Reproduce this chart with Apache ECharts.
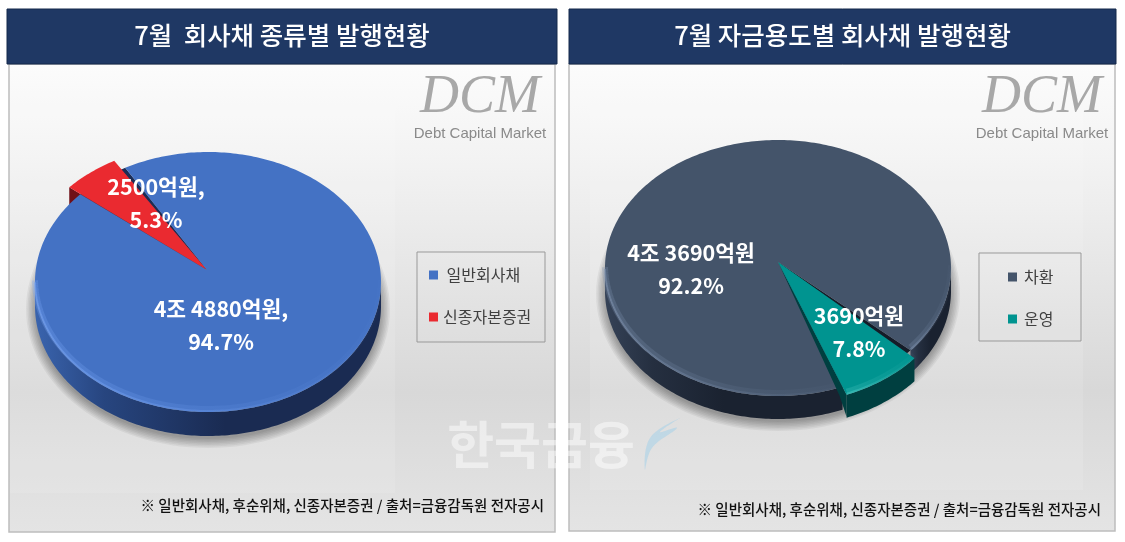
<!DOCTYPE html>
<html><head><meta charset="utf-8">
<style>html,body{margin:0;padding:0;background:#fff}#c{width:1125px;height:542px}</style>
<script src="https://cdn.jsdelivr.net/npm/echarts@6/dist/echarts.min.js"></script>
</head><body><div id="c"></div>
<script>
const titleLeft = '7월  회사채 종류별 발행현황';
const titleRight = '7월 자금용도별 회사채 발행현황';
const categoriesLeft = ['일반회사채', '신종자본증권'];
const valuesLeft = [44880, 2500];
const labelsLeft = ['4조 4880억원,\n94.7%', '2500억원,\n5.3%'];
const categoriesRight = ['차환', '운영'];
const valuesRight = [43690, 3690];
const labelsRight = ['4조 3690억원\n92.2%', '3690억원\n7.8%'];
const footnote = '※ 일반회사채, 후순위채, 신종자본증권 / 출처=금융감독원 전자공시';
const FONT = '"Noto Sans CJK KR"';
const rad = Math.PI / 180;

function lin(x, y, x2, y2, stops) {
  return new echarts.graphic.LinearGradient(x, y, x2, y2, stops.map(s => ({offset: s[0], color: s[1]})));
}

const pieLeft = {
  cx: 208, cy: 282, rx: 173, ry: 130, depth: 24, apex: [207, 270], start: 241.4,
  values: valuesLeft, labels: labelsLeft, labelPos: [[221, 325], [156, 203]],
  explode: [null, {dx: -11, dy: -7, cut: 'start', cutColor: '#701018', wall: '#701018', z: 1, cutDepth: 19, inner: 0}],
  face: ['#4472c4', '#ea2a30'], rim: ['120,165,245', '255,120,120'],
  wall: [[[0, '#1a2b52'], [0.45, '#1a2b52'], [0.8, '#27457f'], [1, '#3a64ae']], null],
  notch: '#1b2d55'
};
const pieRight = {
  cx: 778, cy: 268, rx: 173, ry: 128, depth: 23, apex: [778, 262], start: 68.08,
  values: valuesRight, labels: labelsRight, labelPos: [[691, 269], [859, 332]],
  explode: [null, {dx: 4, dy: 8, cut: 'end', cutColor: '#003f40', wall: '#003f40', z: 3, cutDepth: 22, inner: -7}],
  face: ['#44546a', '#009490'], rim: ['125,145,175', '80,200,195'],
  wall: [[[0, '#1a2230'], [0.5, '#1a2230'], [0.8, '#252f40'], [1, '#354257']], null],
  notch: '#151c28'
};

function makeRender(p, i) {
  return function (params, api) {
    const total = p.values.reduce((a, b) => a + b, 0);
    const before = p.values.slice(0, i).reduce((a, b) => a + b, 0);
    const a0 = p.start + before / total * 360;
    const a1 = a0 + api.value(0) / total * 360;
    const ex = p.explode[i];
    const dx = ex ? ex.dx : 0, dy = ex ? ex.dy : 0;
    const pt = (t, extra) => [p.cx + dx + p.rx * Math.cos(t * rad), p.cy + dy + (extra || 0) + p.ry * Math.sin(t * rad)];
    const steps = [];
    for (let t = a0; t < a1; t += 1) steps.push(t);
    steps.push(a1);
    const children = [];
    // outer wall, only where the rim faces the viewer
    const runs = [];
    let run = [];
    steps.forEach(t => {
      if (Math.sin(t * rad) >= -0.001) run.push(t);
      else if (run.length) { runs.push(run); run = []; }
    });
    if (run.length) runs.push(run);
    const wallFill = ex ? ex.wall : lin(1, 0, 0, 0, p.wall[i]);
    if (ex) {
      const edge = ex.cut === 'start' ? a0 : a1;
      const a = pt(edge), b = pt(edge, ex.cutDepth);
      const pts = ex.inner ? [a, b, [a[0] + ex.inner, a[1] + 1], p.apex] : [a, b, p.apex];
      children.push({type: 'polygon', shape: {points: pts}, style: {fill: ex.cutColor}});
    }
    runs.forEach(r => {
      const top = r.map(t => pt(t));
      const bot = r.map(t => pt(t, p.depth)).reverse();
      children.push({type: 'polygon', shape: {points: top.concat(bot)}, style: {fill: wallFill}});
    });
    // top face
    const arc = steps.map(t => pt(t));
    children.push({type: 'polygon', shape: {points: [p.apex].concat(arc)}, style: {fill: p.face[i]}});
    runs.forEach(r => {
      const c = p.rim[i];
      const fade = a => lin(0, 0, 1, 0, [[0, 'rgba(' + c + ',' + a + ')'], [0.5, 'rgba(' + c + ',' + a * 0.45 + ')'], [1, 'rgba(' + c + ',0.02)']]);
      children.push({type: 'polyline', shape: {points: r.map(t => pt(t, -3))}, style: {fill: null, stroke: fade(0.3), lineWidth: 6}});
      children.push({type: 'polyline', shape: {points: r.map(t => pt(t, -1))}, style: {fill: null, stroke: fade(0.55), lineWidth: 2}});
    });
    return {type: 'group', children};
  };
}

// Soft ground shadow plus the dark cut inside the pie sit under every slice; labels sit over them.
function shadowRender(p) {
  return function () {
    const out = [];
    for (let k = 0; k < 7; k++) {
      out.push({type: 'ellipse', shape: {cx: p.cx, cy: p.cy + p.depth + 3, rx: p.rx + 9 - k * 1.5, ry: p.ry + 9 - k * 1.5},
        style: {fill: 'rgba(0,0,0,0.05)'}});
    }
    const total = p.values.reduce((a, b) => a + b, 0);
    const a0 = p.start + p.values[0] / total * 360;
    const a1 = p.start + 360;
    const gap = [p.apex];
    for (let t = a0; t <= a1; t += 1) gap.push([p.cx + p.rx * Math.cos(t * rad), p.cy + p.ry * Math.sin(t * rad)]);
    gap.push([p.cx + p.rx * Math.cos(a1 * rad), p.cy + p.ry * Math.sin(a1 * rad)]);
    out.push({type: 'polygon', shape: {points: gap}, style: {fill: p.notch}});
    return {type: 'group', children: out};
  };
}
function labelRender(p) {
  return function (params) {
    const i = params.dataIndex;
    return {type: 'text', x: p.labelPos[i][0], y: p.labelPos[i][1],
      style: {text: p.labels[i], fill: '#fff', font: 'bold 21.5px ' + FONT, lineHeight: 33,
        align: 'center', verticalAlign: 'middle', shadowBlur: 3, shadowColor: 'rgba(0,0,0,0.3)'}};
  };
}

function seriesFor(p, names) {
  const slices = names.map((n, i) => ({
    type: 'custom', name: n, coordinateSystem: 'none', z: p.explode[i] ? p.explode[i].z : 2, silent: true,
    itemStyle: {color: p.face[i]}, clip: false,
    data: [[p.values[i]]], renderItem: makeRender(p, i)
  }));
  return [
    {type: 'custom', coordinateSystem: 'none', z: 0, silent: true, data: [[0]], renderItem: shadowRender(p)},
    ...slices,
    {type: 'custom', coordinateSystem: 'none', z: 5, silent: true, data: p.values.map(v => [v]), renderItem: labelRender(p)}
  ];
}

function panel(x, w, h) {
  return {type: 'rect', shape: {x, y: 64, width: w, height: h},
    style: {fill: lin(0, 0, 0, 1, [[0, '#fcfcfc'], [0.2, '#f3f3f3'], [0.7, '#d8d8d8'], [1, '#e4e4e4']]),
      stroke: '#bdbdbd', lineWidth: 1.5}};
}
function header(x, w, text) {
  return [
    {type: 'rect', shape: {x, y: 9, width: w, height: 55}, style: {fill: '#1f3864', stroke: '#15284a', lineWidth: 1}},
    {type: 'text', x: x + w / 2, y: 35, style: {text, fill: '#fff', font: '500 25.5px ' + FONT, align: 'center', verticalAlign: 'middle'}}
  ];
}
function logo(x, xs) {
  return [
    {type: 'text', x, y: 98, style: {text: 'DCM', fill: '#a8a8a8', font: 'italic 54px "Liberation Serif"', align: 'center', verticalAlign: 'middle'}},
    {type: 'text', x: xs, y: 134, style: {text: 'Debt Capital Market', fill: '#8a8a8a', font: '15px "Liberation Sans"', align: 'center', verticalAlign: 'middle'}}
  ];
}
function legendBox(x, y, w, h) {
  return {type: 'rect', shape: {x, y, width: w, height: h}, style: {fill: 'rgba(255,255,255,0)', stroke: '#999', lineWidth: 1}};
}
function note(xRight, y) {
  return {type: 'text', x: xRight, y, style: {text: footnote, fill: '#111', font: '500 14.5px ' + FONT, align: 'right', verticalAlign: 'middle'}};
}

const chart = echarts.init(document.getElementById('c'), null, {renderer: 'canvas'});
chart.setOption({
  animation: false,
  backgroundColor: '#fff',
  legend: [
    {data: categoriesLeft, orient: 'vertical', left: 424, top: 262, itemWidth: 9, itemHeight: 9, itemGap: 26, icon: 'rect',
      selectedMode: false, formatter: n => n === categoriesLeft[0] ? ' ' + n : n,
      textStyle: {fontFamily: FONT, fontSize: 16, color: '#404040', padding: [0, 0, 0, 0]}},
    {data: categoriesRight, orient: 'vertical', left: 1003, top: 264, itemWidth: 9, itemHeight: 9, itemGap: 26, icon: 'rect',
      selectedMode: false, textStyle: {fontFamily: FONT, fontSize: 16, color: '#404040', padding: [0, 0, 0, 2]}}
  ],
  graphic: [{type: 'group', silent: true, children: [
    panel(9, 546, 468), panel(569, 546, 467),
    {type: 'rect', shape: {x: 10, y: 102, width: 385, height: 391}, style: {fill: 'rgba(255,255,255,0.12)'}},
    {type: 'rect', shape: {x: 590, y: 85, width: 493, height: 405}, style: {fill: 'rgba(255,255,255,0.12)'}},
    ...header(7, 550, titleLeft), ...header(569, 547, titleRight),
    ...logo(480, 480), ...logo(1042, 1042),
    legendBox(417, 252, 128, 90), legendBox(979, 253, 102, 88),
    note(544, 505), note(1101, 509)
  ]},
  {type: 'group', silent: true, z: 20, children: [
    {type: 'text', x: 541, y: 445, z2: 30, style: {text: '한국금융', fill: 'rgba(255,255,255,0.48)', font: 'bold 51px ' + FONT, align: 'center', verticalAlign: 'middle'}},
    {type: 'polygon', z2: 30, shape: {smooth: 0.4, points: [[645, 470], [650, 438], [680, 418], [660, 432], [677, 428], [652, 448]]},
      style: {fill: 'rgba(170,210,232,0.6)'}}
  ]}],
  series: [...seriesFor(pieLeft, categoriesLeft), ...seriesFor(pieRight, categoriesRight)]
});
</script></body></html>
